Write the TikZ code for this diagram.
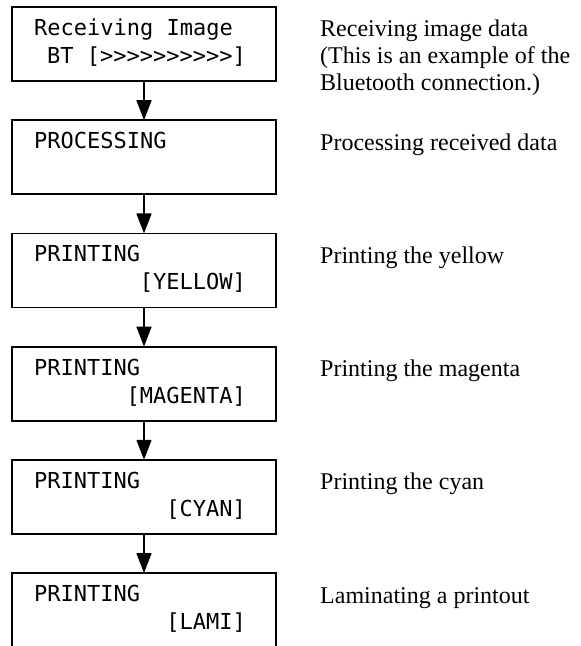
\documentclass[tikz,border=0pt]{standalone}
\usepackage{fontspec}
\setmainfont{Liberation Serif}
\newfontfamily\lcdfont{DejaVu Sans Mono}
\usepackage{tikz}
\usetikzlibrary{positioning}
\usetikzlibrary{arrows.meta}

\tikzset{
lcdbox/.style={draw, line width=1.8pt, minimum width=264pt, minimum height=74pt, inner sep=0pt, outer sep=0pt},
lcdtext/.style={inner sep=0pt, font=\lcdfont\fontsize{22}{26}\selectfont},
infotext/.style={inner sep=0pt, align=left, font=\fontsize{24}{27}\selectfont},
flow/.style={line width=1.8pt, -{Triangle[length=20pt,width=15pt]}}
}

\begin{document}
\begin{tikzpicture}[x=1pt,y=-1pt]
\useasboundingbox (0,0) rectangle (581,646);

%----------receiving
\node[lcdbox, anchor=north west] (b1) at (12,7) {};
\node[lcdtext, anchor=base west] (t1a) at ([xshift=22pt,yshift=-28.4pt]b1.north west) {Receiving Image};
\node[lcdtext, anchor=base east] (t1b) at ([xshift=-30pt,yshift=-56.5pt]b1.north east) {BT [>>>>>>>>>>]};
%base is the last line:
\node[infotext, anchor=base west] (i1) at ([xshift=44pt,yshift=-83pt]b1.north east) {Receiving image data\\(This is an example of the\\Bluetooth connection.)};

%----------processing
\node[lcdbox, below=39.2pt of b1] (b2) {};
\node[lcdtext, anchor=base west] (t2a) at ([xshift=22pt,yshift=-28.4pt]b2.north west) {PROCESSING};
\node[infotext, anchor=base west] (i2) at ([xshift=44pt,yshift=-30pt]b2.north east) {Processing received data};
%line:
\draw[flow] (b1) -- (b2);

%----------printing
\foreach \k/\colname/\info [remember=\k as \prev (initially 2)] in {3/YELLOW/Printing the yellow, 4/MAGENTA/Printing the magenta, 5/CYAN/Printing the cyan, 6/LAMI/Laminating a printout}{%
\node[lcdbox, below=39.2pt of b\prev] (b\k) {};
\node[lcdtext, anchor=base west] (t\k a) at ([xshift=22pt,yshift=-28.4pt]b\k.north west) {PRINTING};
\node[lcdtext, anchor=base east] (t\k b) at ([xshift=-30pt,yshift=-56.5pt]b\k.north east) {[\colname]};
\node[infotext, anchor=base west] (i\k) at ([xshift=44pt,yshift=-30pt]b\k.north east) {\info};
%line:
\draw[flow] (b\prev) -- (b\k);
}

\end{tikzpicture}
\end{document}
